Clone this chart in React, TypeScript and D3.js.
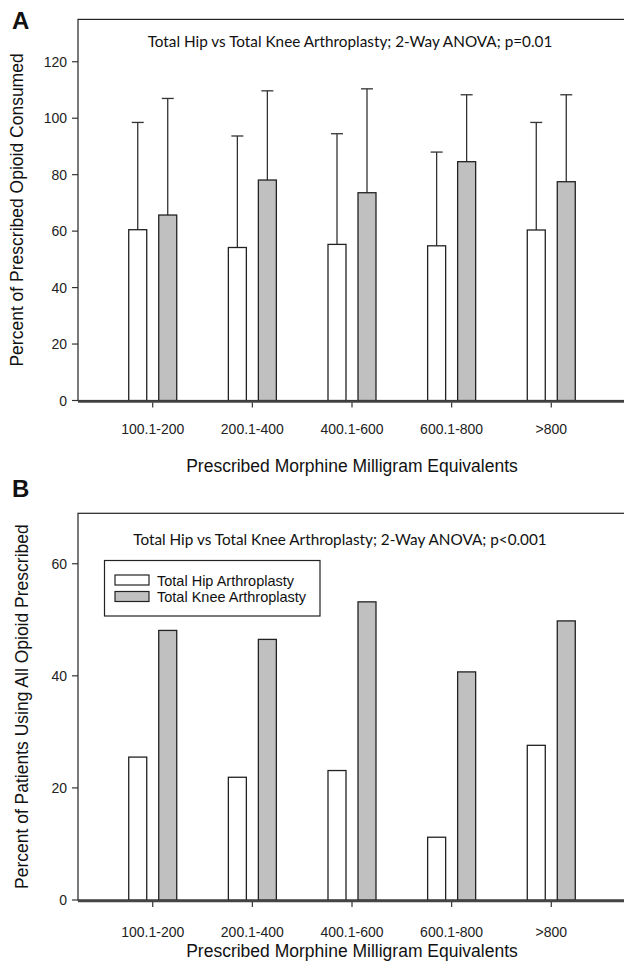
import React from "react";
import * as d3 from "d3";
import { useRef, useEffect } from "react";

const categories = ["100.1-200", "200.1-400", "400.1-600", "600.1-800", ">800"];
const seriesNames = ["Total Hip Arthroplasty", "Total Knee Arthroplasty"];

// panel A: mean percent consumed and upper error (SD)
const hipConsumed = [60.5, 54.2, 55.3, 54.8, 60.4];
const kneeConsumed = [65.7, 78.1, 73.6, 84.6, 77.5];
const hipConsumedSD = [38.0, 39.5, 39.2, 33.2, 38.1];
const kneeConsumedSD = [41.3, 31.6, 36.8, 23.7, 30.8];
const ticksA = [0, 20, 40, 60, 80, 100, 120];

// panel B: percent of patients using all opioid prescribed
const hipAll = [25.5, 21.9, 23.1, 11.2, 27.6];
const kneeAll = [48.1, 46.5, 53.2, 40.7, 49.8];
const ticksB = [0, 20, 40, 60];

const FONT = "'Liberation Sans', Arial, sans-serif";
const NOTE_FONT = "Lato, 'Open Sans', sans-serif";

export default function App() {
  const chartRef = useRef(null);

  useEffect(() => {
    const width = 624;
    const height = 962;
    d3.select(chartRef.current).selectAll("*").remove();

    const svg = d3
      .select(chartRef.current)
      .append("svg")
      .attr("width", width)
      .attr("height", height)
      .style("position", "absolute")
      .style("left", "0px")
      .style("top", "0px")
      .style("background", "#fff");

    const left = 78;
    const right = 626;

    const x = d3.scalePoint().domain(categories).range([left, right]).padding(0.75);

    function drawPanel(opts) {
      const { top, zero, yMax, ticks, hip, knee, hipSD, kneeSD, letter, letterY, note, noteX, noteY, yTitle, yTitleX, tickY, titleY } = opts;
      const y = d3.scaleLinear().domain([0, yMax]).range([zero, top]);
      const g = svg.append("g");

      // frame
      g.append("rect")
        .attr("x", left)
        .attr("y", top)
        .attr("width", right - left)
        .attr("height", zero - top)
        .attr("fill", "none")
        .attr("stroke", "#222")
        .attr("stroke-width", 1.2);

      // y ticks
      ticks.forEach((t) => {
        g.append("line")
          .attr("x1", left - 6)
          .attr("x2", left)
          .attr("y1", y(t))
          .attr("y2", y(t))
          .attr("stroke", "#333")
          .attr("stroke-width", 1.2);
        g.append("text")
          .attr("x", left - 11)
          .attr("y", y(t))
          .attr("dy", "0.36em")
          .attr("text-anchor", "end")
          .attr("font-family", FONT)
          .attr("font-size", 14)
          .attr("fill", "#222")
          .text(t);
      });

      const bw = 18;
      const data = categories.map((c, i) => ({ c, hip: hip[i], knee: knee[i], hipSD: hipSD ? hipSD[i] : 0, kneeSD: kneeSD ? kneeSD[i] : 0 }));

      // error bars (upper only)
      if (hipSD) {
        data.forEach((d) => {
          [
            { cx: x(d.c) - 15, v: d.hip, e: d.hipSD },
            { cx: x(d.c) + 15, v: d.knee, e: d.kneeSD },
          ].forEach((b) => {
            g.append("line")
              .attr("x1", b.cx)
              .attr("x2", b.cx)
              .attr("y1", y(b.v))
              .attr("y2", y(b.v + b.e))
              .attr("stroke", "#333")
              .attr("stroke-width", 1.3);
            g.append("line")
              .attr("x1", b.cx - 6)
              .attr("x2", b.cx + 6)
              .attr("y1", y(b.v + b.e))
              .attr("y2", y(b.v + b.e))
              .attr("stroke", "#333")
              .attr("stroke-width", 1.3);
          });
        });
      }

      g.selectAll(".hip")
        .data(data)
        .enter()
        .append("rect")
        .attr("x", (d) => x(d.c) - 24)
        .attr("y", (d) => y(d.hip))
        .attr("width", bw)
        .attr("height", (d) => zero - y(d.hip))
        .attr("fill", "#fff")
        .attr("stroke", "#222")
        .attr("stroke-width", 1.3);

      g.selectAll(".knee")
        .data(data)
        .enter()
        .append("rect")
        .attr("x", (d) => x(d.c) + 6)
        .attr("y", (d) => y(d.knee))
        .attr("width", bw)
        .attr("height", (d) => zero - y(d.knee))
        .attr("fill", "#c0c0c0")
        .attr("stroke", "#222")
        .attr("stroke-width", 1.3);

      // x axis line
      g.append("line")
        .attr("x1", left)
        .attr("x2", width)
        .attr("y1", zero + 1)
        .attr("y2", zero + 1)
        .attr("stroke", "#444")
        .attr("stroke-width", 2.5);

      categories.forEach((c) => {
        g.append("line")
          .attr("x1", x(c))
          .attr("x2", x(c))
          .attr("y1", zero + 2)
          .attr("y2", zero + 7)
          .attr("stroke", "#333")
          .attr("stroke-width", 1.2);
        g.append("text")
          .attr("x", x(c))
          .attr("y", tickY)
          .attr("text-anchor", "middle")
          .attr("font-family", FONT)
          .attr("font-size", 14)
          .attr("fill", "#222")
          .text(c);
      });

      g.append("text")
        .attr("x", 352)
        .attr("y", titleY)
        .attr("text-anchor", "middle")
        .attr("font-family", FONT)
        .attr("font-size", 17.5)
        .attr("fill", "#111")
        .text("Prescribed Morphine Milligram Equivalents");

      g.append("text")
        .attr("transform", `translate(${yTitleX},${(top + zero) / 2}) rotate(-90)`)
        .attr("text-anchor", "middle")
        .attr("font-family", FONT)
        .attr("font-size", 17.5)
        .attr("fill", "#111")
        .text(yTitle);

      g.append("text")
        .attr("x", 12)
        .attr("y", letterY)
        .attr("font-family", FONT)
        .attr("font-weight", "bold")
        .attr("font-size", 24)
        .attr("fill", "#111")
        .text(letter);

      g.append("text")
        .attr("x", noteX)
        .attr("y", noteY)
        .attr("text-anchor", "middle")
        .attr("font-family", NOTE_FONT)
        .attr("font-size", 15.3)
        .attr("fill", "#111")
        .text(note);

      return g;
    }

    drawPanel({
      top: 19.4,
      zero: 400.5,
      yMax: 135,
      ticks: ticksA,
      hip: hipConsumed,
      knee: kneeConsumed,
      hipSD: hipConsumedSD,
      kneeSD: kneeConsumedSD,
      letter: "A",
      letterY: 29,
      note: "Total Hip vs Total Knee Arthroplasty; 2-Way ANOVA; p=0.01",
      noteX: 350,
      noteY: 47,
      yTitle: "Percent of Prescribed Opioid Consumed",
      yTitleX: 23,
      tickY: 434,
      titleY: 472,
    });

    const gB = drawPanel({
      top: 513.3,
      zero: 900,
      yMax: 69,
      ticks: ticksB,
      hip: hipAll,
      knee: kneeAll,
      hipSD: null,
      kneeSD: null,
      letter: "B",
      letterY: 497,
      note: "Total Hip vs Total Knee Arthroplasty; 2-Way ANOVA; p<0.001",
      noteX: 340,
      noteY: 545,
      yTitle: "Percent of Patients Using All Opioid Prescribed",
      yTitleX: 28,
      tickY: 937,
      titleY: 957,
    });

    // legend
    gB.append("rect")
      .attr("x", 104.5)
      .attr("y", 560.5)
      .attr("width", 215.5)
      .attr("height", 55.5)
      .attr("fill", "#fff")
      .attr("stroke", "#222")
      .attr("stroke-width", 1.2);

    const legendFill = ["#fff", "#c0c0c0"];
    seriesNames.forEach((name, i) => {
      gB.append("rect")
        .attr("x", 115)
        .attr("y", 575 + i * 16.5)
        .attr("width", 34)
        .attr("height", 10)
        .attr("fill", legendFill[i])
        .attr("stroke", "#222")
        .attr("stroke-width", 1.2);
      gB.append("text")
        .attr("x", 157)
        .attr("y", 585.5 + i * 16.5)
        .attr("font-family", FONT)
        .attr("font-size", 14.5)
        .attr("fill", "#111")
        .text(name);
    });
  }, []);

  return <div ref={chartRef} />;
}
